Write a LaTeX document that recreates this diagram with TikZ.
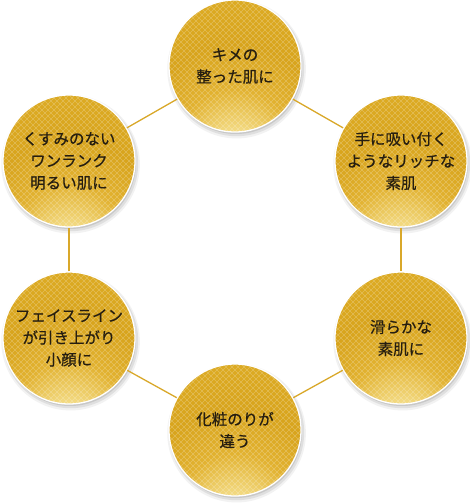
\documentclass[tikz,border=0pt]{standalone}
\usepackage{fontspec}
\newfontfamily\jp[FakeBold=0.6]{Noto Sans CJK JP}
\usetikzlibrary{shadows}
\definecolor{conncol}{HTML}{D9A82A}
\definecolor{txtcol}{HTML}{261E10}
\pgfdeclareradialshading{goldball}{\pgfpoint{0bp}{-40bp}}{%
  color(0bp)=(rgb,255:red,252;green,244;blue,200);
  color(9bp)=(rgb,255:red,246;green,226;blue,146);
  color(22bp)=(rgb,255:red,226;green,178;blue,48);
  color(34bp)=(rgb,255:red,216;green,164;blue,28);
  color(55bp)=(rgb,255:red,224;green,176;blue,40);
  color(75bp)=(rgb,255:red,236;green,196;blue,68);
  color(95bp)=(rgb,255:red,242;green,208;blue,90)}
\begin{document}
\begin{tikzpicture}[x=1pt,y=-1pt,
  ball/.style={circle, minimum size=132pt, inner sep=0pt,
    draw=white, line width=1.3pt, text=txtcol, align=center,
    font=\jp\fontsize{15.5pt}{22pt}\selectfont,
    shading=goldball,
    general shadow={shadow scale=1.05, shadow xshift=1.5pt, shadow yshift=-3pt, fill=black, opacity=.05},
    general shadow={shadow scale=1.025, shadow xshift=1.5pt, shadow yshift=-2.5pt, fill=black, opacity=.08},
    general shadow={shadow scale=1.0, shadow xshift=1pt, shadow yshift=-2pt, fill=black, opacity=.10},
    path picture={
      \foreach \k in {-150,-144,...,150}{
        \draw[white, opacity=.24, line width=.45pt] ([shift={(\k-75,-75)}]path picture bounding box.center) -- ++(150,150);
        \draw[white, opacity=.24, line width=.45pt] ([shift={(\k-75,75)}]path picture bounding box.center) -- ++(150,-150);
      }
    }},
  conn/.style={draw=conncol, line width=1.3pt}]
\useasboundingbox (0,0) rectangle (470,504);
\node[ball] (t)  at (235,66)  {キメの\\整った肌に};
\node[ball] (ur) at (401,161) {手に吸い付く\\ようなリッチな\\素肌};
\node[ball] (lr) at (401,338) {滑らかな\\素肌に};
\node[ball] (b)  at (235,430) {化粧のりが\\違う};
\node[ball] (ll) at (69,338)  {フェイスライン\\が引き上がり\\小顔に};
\node[ball] (ul) at (69,161)  {くすみのない\\ワンランク\\明るい肌に};
\draw[conn] (t) -- (ur);
\draw[conn] (ur) -- (lr);
\draw[conn] (lr) -- (b);
\draw[conn] (b) -- (ll);
\draw[conn] (ll) -- (ul);
\draw[conn] (ul) -- (t);
\end{tikzpicture}
\end{document}
